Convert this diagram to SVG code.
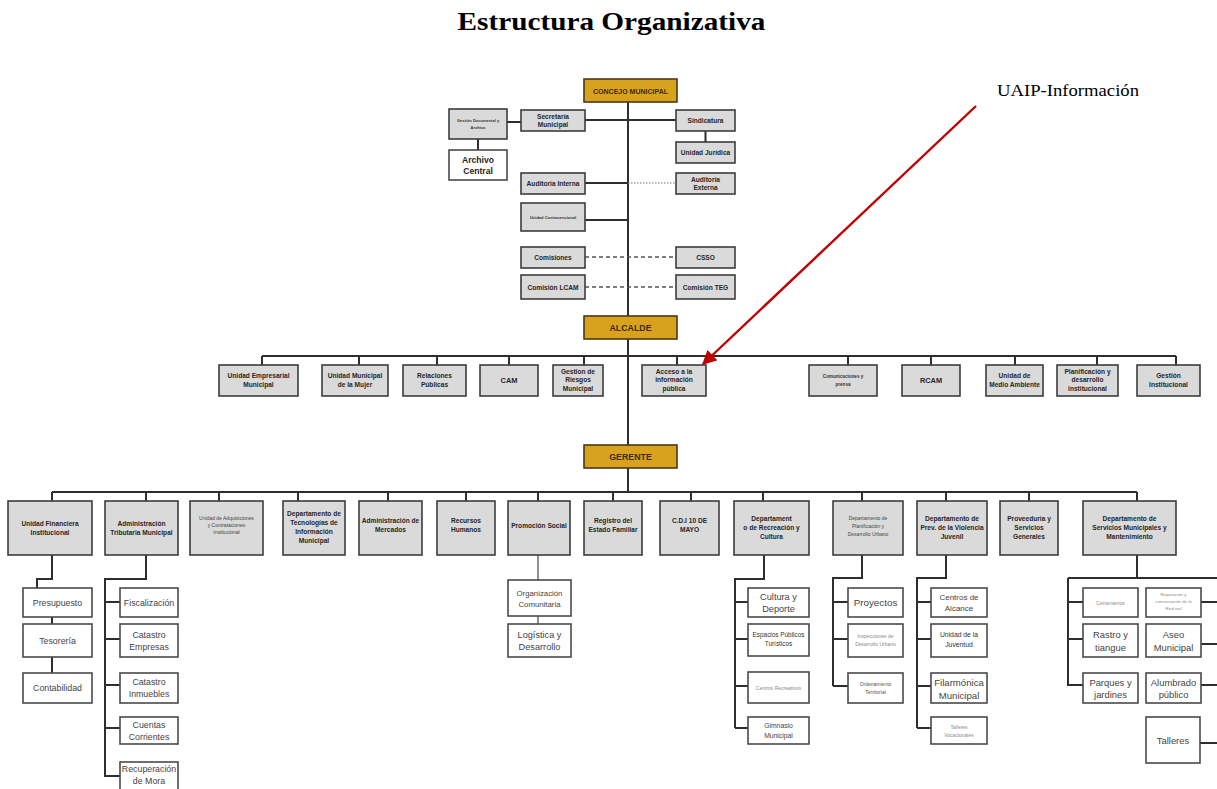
<svg xmlns="http://www.w3.org/2000/svg" width="1217" height="789" viewBox="0 0 1217 789">
<defs>
<style>
.g{fill:#dadada;stroke:#3c3c3c;stroke-width:1.6}
.w{fill:#ffffff;stroke:#4a4a4a;stroke-width:1.6}
.o{fill:#d9a21e;stroke:#4a3a10;stroke-width:1.6}
.ln{stroke:#2e2e2e;stroke-width:2;fill:none}
.dash{stroke:#555;stroke-width:1.3;stroke-dasharray:4 3;fill:none}
.dot{stroke:#777;stroke-width:1;stroke-dasharray:1.5 1.5;fill:none}
text{font-family:"Liberation Sans Narrow","Liberation Sans",Arial,sans-serif;text-anchor:middle}
.tb{font-weight:bold;fill:#262626;font-size:6.6px}
.ts{font-weight:bold;fill:#333;font-size:4.6px}
.to{font-weight:bold;fill:#3a2c05;font-size:8px}
.tr{fill:#444;font-size:8.8px}
.tl{fill:#8a8a8a;font-size:5px}
.title{font-family:"Liberation Serif","Times New Roman",serif;font-weight:bold;font-size:26px;fill:#000}
.lab{font-family:"Liberation Serif","Times New Roman",serif;font-size:17px;fill:#000;text-anchor:start}
</style>
<marker id="ah" viewBox="0 0 10 10" refX="9" refY="5" markerWidth="6" markerHeight="6" orient="auto" markerUnits="strokeWidth">
<path d="M0,0 L10,5 L0,10 z" fill="#c00000"/>
</marker>
</defs>
<rect width="1217" height="789" fill="#ffffff"/>
<text class="title" x="611.5" y="30" textLength="308" lengthAdjust="spacingAndGlyphs">Estructura Organizativa</text>
<text class="lab" x="997" y="96" textLength="142" lengthAdjust="spacingAndGlyphs">UAIP-Información</text>

<g id="connectors">
<path class="ln" d="M628,102 V316 M628,339 V445 M628,468 V492"/>
<path class="ln" d="M507,122 H521 M478,139 V150 M585,120 H676 M705.5,131 V142 M585,183 H628 M585,220 H628"/>
<path class="dot" d="M628,183 H676"/>
<path class="dash" d="M585,257 H676 M585,287 H676"/>
<path class="ln" d="M262,356 H1176 M262,356 V365 M359,356 V365 M437,356 V365 M509,356 V365 M584,356 V365 M677,356 V365 M848,356 V365 M931,356 V365 M1015,356 V365 M1097,356 V365 M1176,356 V365"/>
<path class="ln" d="M52,492 H1137 M52,492 V501 M146,492 V501 M219,492 V501 M298,492 V501 M388,492 V501 M466,492 V501 M538,492 V501 M613,492 V501 M691,492 V501 M763,492 V501 M862,492 V501 M946,492 V501 M1029,492 V501 M1137,492 V501"/>
<path class="ln" d="M52,555 V579 H37 V588 M52,617 V624 M52,657 V673"/>
<path class="ln" d="M146,555 V579 H105 V777 M105,602 H120 M105,639 H120 M105,685 H120 M105,728 H120 M105,776 H120"/>
<path class="ln" d="M538,555 V580 M538,616 V624" style="stroke:#555;stroke-width:1.3"/>
<path class="ln" d="M764,555 V579 H735 V728 M735,602 H748 M735,639 H748 M735,686 H748 M735,728 H748"/>
<path class="ln" d="M862,555 V578 H833 V686 M833,602 H848 M833,639 H848 M833,686 H848"/>
<path class="ln" d="M946,555 V578 H917 V728 M917,602 H931 M917,639 H931 M917,686 H931 M917,728 H931"/>
<path class="ln" d="M1137,555 V578 M1068,578 H1217 M1068,578 V686 M1068,602 H1083 M1068,639 H1083 M1068,685 H1083 M1201,602 H1217 M1201,644 H1217 M1201,685 H1217 M1200,743 H1217"/>
<line x1="976" y1="106" x2="703" y2="364" stroke="#c00000" stroke-width="2.4" marker-end="url(#ah)"/>
</g>

<g id="concejo"><rect class="o" x="584" y="79" width="93" height="23"/><text class="to" x="630.5" y="93.5" style="font-size:7px">CONCEJO MUNICIPAL</text></g>
<g id="gestion-documental"><rect class="g" x="449" y="109" width="58" height="30"/><text class="ts" x="478" y="122" style="font-size:4px">Gestión Documental y</text><text class="ts" x="478" y="129" style="font-size:4px">Archivo</text></g>
<g id="secretaria"><rect class="g" x="521" y="110" width="64" height="21"/><text class="tb" x="553" y="118.5">Secretaría</text><text class="tb" x="553" y="127">Municipal</text></g>
<g id="sindicatura"><rect class="g" x="676" y="110" width="59" height="21"/><text class="tb" x="705.5" y="123">Sindicatura</text></g>
<g id="archivo-central"><rect class="w" x="449" y="150" width="58" height="30"/><text class="tb" x="478" y="162.5" style="font-size:8.6px">Archivo</text><text class="tb" x="478" y="174" style="font-size:8.6px">Central</text></g>
<g id="unidad-juridica"><rect class="g" x="676" y="142" width="59" height="21"/><text class="tb" x="705.5" y="155">Unidad Jurídica</text></g>
<g id="auditoria-interna"><rect class="g" x="521" y="173" width="64" height="21"/><text class="tb" x="553" y="186">Auditoría Interna</text></g>
<g id="auditoria-externa"><rect class="g" x="676" y="173" width="59" height="21"/><text class="tb" x="705.5" y="181.5">Auditoría</text><text class="tb" x="705.5" y="190">Externa</text></g>
<g id="unidad-contravencional"><rect class="g" x="521" y="203" width="64" height="28"/><text class="ts" x="553" y="219" style="font-size:4px">Unidad Contravencional</text></g>
<g id="comisiones"><rect class="g" x="521" y="247" width="64" height="21"/><text class="tb" x="553" y="260">Comisiones</text></g>
<g id="csso"><rect class="g" x="676" y="247" width="59" height="21"/><text class="tb" x="705.5" y="260">CSSO</text></g>
<g id="comision-lcam"><rect class="g" x="521" y="275" width="64" height="24"/><text class="tb" x="553" y="289.5">Comisión LCAM</text></g>
<g id="comision-teg"><rect class="g" x="676" y="275" width="59" height="24"/><text class="tb" x="705.5" y="289.5">Comisión TEG</text></g>

<g id="alcalde"><rect class="o" x="584" y="316" width="93" height="23"/><text class="to" x="630.5" y="330.5" style="font-size:8.8px">ALCALDE</text></g>
<g id="unidad-empresarial"><rect class="g" x="219" y="365" width="79" height="31"/><text class="tb" x="258.5" y="378">Unidad Empresarial</text><text class="tb" x="258.5" y="387">Municipal</text></g>
<g id="unidad-mujer"><rect class="g" x="322" y="365" width="66" height="31"/><text class="tb" x="355" y="378">Unidad Municipal</text><text class="tb" x="355" y="387">de la Mujer</text></g>
<g id="relaciones-publicas"><rect class="g" x="403" y="365" width="63" height="31"/><text class="tb" x="434.5" y="378">Relaciones</text><text class="tb" x="434.5" y="387">Públicas</text></g>
<g id="cam"><rect class="g" x="480" y="365" width="58" height="31"/><text class="tb" x="509" y="383" style="font-size:7.4px">CAM</text></g>
<g id="gestion-riesgos"><rect class="g" x="553" y="365" width="50" height="31"/><text class="tb" x="578" y="373.5">Gestion de</text><text class="tb" x="578" y="382">Riesgos</text><text class="tb" x="578" y="390.5">Municipal</text></g>
<g id="acceso-informacion"><rect class="g" x="642" y="365" width="64" height="31"/><text class="tb" x="674" y="373.5">Acceso a la</text><text class="tb" x="674" y="382">información</text><text class="tb" x="674" y="390.5">pública</text></g>
<g id="comunicaciones"><rect class="g" x="809" y="365" width="68" height="31"/><text class="ts" x="843" y="378">Comunicaciones y</text><text class="ts" x="843" y="386">prensa</text></g>
<g id="rcam"><rect class="g" x="902" y="365" width="58" height="31"/><text class="tb" x="931" y="383" style="font-size:7.4px">RCAM</text></g>
<g id="medio-ambiente"><rect class="g" x="986" y="365" width="57" height="31"/><text class="tb" x="1014.5" y="378">Unidad de</text><text class="tb" x="1014.5" y="387">Medio Ambiente</text></g>
<g id="planificacion-institucional"><rect class="g" x="1057" y="365" width="61" height="31"/><text class="tb" x="1087.5" y="373.5">Planificación y</text><text class="tb" x="1087.5" y="382">desarrollo</text><text class="tb" x="1087.5" y="390.5">institucional</text></g>
<g id="gestion-institucional"><rect class="g" x="1137" y="365" width="63" height="31"/><text class="tb" x="1168.5" y="378">Gestión</text><text class="tb" x="1168.5" y="387">Institucional</text></g>

<g id="gerente"><rect class="o" x="584" y="445" width="93" height="23"/><text class="to" x="630.5" y="459.5" style="font-size:8.8px">GERENTE</text></g>
<g id="unidad-financiera"><rect class="g" x="8" y="501" width="84" height="54"/><text class="tb" x="50" y="526">Unidad Financiera</text><text class="tb" x="50" y="535">Institucional</text></g>
<g id="administracion-tributaria"><rect class="g" x="105" y="501" width="73" height="54"/><text class="tb" x="141.5" y="526">Administración</text><text class="tb" x="141.5" y="535">Tributaria Municipal</text></g>
<g id="adquisiciones"><rect class="g" x="190" y="501" width="73" height="54"/><text class="tl" x="226.5" y="520" style="fill:#444">Unidad de  Adquisiciones</text><text class="tl" x="226.5" y="527" style="fill:#444">y Contrataciones</text><text class="tl" x="226.5" y="534" style="fill:#444">Institucional</text></g>
<g id="tecnologias"><rect class="g" x="283" y="501" width="62" height="54"/><text class="tb" x="314" y="516">Departamento de</text><text class="tb" x="314" y="525">Tecnologías de</text><text class="tb" x="314" y="534">Información</text><text class="tb" x="314" y="543">Municipal</text></g>
<g id="mercados"><rect class="g" x="359" y="501" width="63" height="54"/><text class="tb" x="390.5" y="523">Administración de</text><text class="tb" x="390.5" y="532">Mercados</text></g>
<g id="recursos-humanos"><rect class="g" x="437" y="501" width="58" height="54"/><text class="tb" x="466" y="523">Recursos</text><text class="tb" x="466" y="532">Humanos</text></g>
<g id="promocion-social"><rect class="g" x="508" y="501" width="62" height="54"/><text class="tb" x="539" y="527.5">Promoción Social</text></g>
<g id="registro-familiar"><rect class="g" x="584" y="501" width="58" height="54"/><text class="tb" x="613" y="523">Registro del</text><text class="tb" x="613" y="532">Estado Familiar</text></g>
<g id="cdi"><rect class="g" x="660" y="501" width="59" height="54"/><text class="tb" x="689.5" y="523">C.D.I 10 DE</text><text class="tb" x="689.5" y="532">MAYO</text></g>
<g id="recreacion-cultura"><rect class="g" x="734" y="501" width="75" height="54"/><text class="tb" x="771.5" y="521">Departament</text><text class="tb" x="771.5" y="530">o de Recreación y</text><text class="tb" x="771.5" y="539">Cultura</text></g>
<g id="planificacion-urbano"><rect class="g" x="833" y="501" width="70" height="54"/><text class="tl" x="868" y="520" style="fill:#444">Departamento de</text><text class="tl" x="868" y="528" style="fill:#444">Planificación y</text><text class="tl" x="868" y="536" style="fill:#444">Desarrollo Urbano</text></g>
<g id="violencia-juvenil"><rect class="g" x="917" y="501" width="70" height="54"/><text class="tb" x="952" y="521">Departamento de</text><text class="tb" x="952" y="530">Prev. de la Violencia</text><text class="tb" x="952" y="539">Juvenil</text></g>
<g id="proveeduria"><rect class="g" x="1000" y="501" width="58" height="54"/><text class="tb" x="1029" y="521">Proveeduría y</text><text class="tb" x="1029" y="530">Servicios</text><text class="tb" x="1029" y="539">Generales</text></g>
<g id="servicios-municipales"><rect class="g" x="1083" y="501" width="93" height="54"/><text class="tb" x="1129.5" y="521">Departamento de</text><text class="tb" x="1129.5" y="530">Servicios Municipales y</text><text class="tb" x="1129.5" y="539">Mantenimiento</text></g>

<g id="presupuesto"><rect class="w" x="23" y="588" width="69" height="29"/><text class="tr" x="57.5" y="605.5">Presupuesto</text></g>
<g id="tesoreria"><rect class="w" x="23" y="624" width="69" height="33"/><text class="tr" x="57.5" y="643.5">Tesorería</text></g>
<g id="contabilidad"><rect class="w" x="23" y="673" width="69" height="30"/><text class="tr" x="57.5" y="691">Contabilidad</text></g>
<g id="fiscalizacion"><rect class="w" x="120" y="588" width="58" height="29"/><text class="tr" x="149" y="605.5">Fiscalización</text></g>
<g id="catastro-empresas"><rect class="w" x="120" y="624" width="58" height="33"/><text class="tr" x="149" y="637.5">Catastro</text><text class="tr" x="149" y="649.5">Empresas</text></g>
<g id="catastro-inmuebles"><rect class="w" x="120" y="673" width="58" height="30"/><text class="tr" x="149" y="685">Catastro</text><text class="tr" x="149" y="697">Inmuebles</text></g>
<g id="cuentas-corrientes"><rect class="w" x="120" y="717" width="58" height="27"/><text class="tr" x="149" y="727.5">Cuentas</text><text class="tr" x="149" y="739.5">Corrientes</text></g>
<g id="recuperacion-mora"><rect class="w" x="120" y="762" width="58" height="29"/><text class="tr" x="149" y="772">Recuperación</text><text class="tr" x="149" y="784">de Mora</text></g>
<g id="organizacion-comunitaria"><rect class="w" x="508" y="580" width="63" height="36"/><text class="tr" x="539.5" y="596" style="font-size:7.8px">Organización</text><text class="tr" x="539.5" y="607" style="font-size:7.8px">Comunitaria</text></g>
<g id="logistica"><rect class="w" x="508" y="624" width="63" height="33"/><text class="tr" x="539.5" y="637.5" style="font-size:9.2px">Logística y</text><text class="tr" x="539.5" y="650" style="font-size:9.2px">Desarrollo</text></g>
<g id="cultura-deporte"><rect class="w" x="748" y="588" width="61" height="29"/><text class="tr" x="778.5" y="599.5" style="font-size:9.2px">Cultura y</text><text class="tr" x="778.5" y="611.5" style="font-size:9.2px">Deporte</text></g>
<g id="espacios-publicos"><rect class="w" x="748" y="624" width="61" height="32"/><text class="tb" x="778.5" y="637" style="fill:#333;font-weight:normal;font-size:6.4px">Espacios Públicos</text><text class="tb" x="778.5" y="646" style="fill:#333;font-weight:normal;font-size:6.4px">Turísticos</text></g>
<g id="centros-recreativos"><rect class="w" x="748" y="672" width="61" height="31"/><text class="tl" x="778.5" y="689.5">Centros Recreativos</text></g>
<g id="gimnasio"><rect class="w" x="748" y="717" width="61" height="27"/><text class="tr" x="778.5" y="728" style="font-size:6.8px">Gimnasio</text><text class="tr" x="778.5" y="738" style="font-size:6.8px">Municipal</text></g>
<g id="proyectos"><rect class="w" x="848" y="588" width="55" height="29"/><text class="tr" x="875.5" y="606" style="font-size:9.8px">Proyectos</text></g>
<g id="inspecciones"><rect class="w" x="848" y="624" width="55" height="33"/><text class="tl" x="875.5" y="638">Inspecciones de</text><text class="tl" x="875.5" y="646">Desarrollo Urbano</text></g>
<g id="ordenamiento"><rect class="w" x="848" y="673" width="55" height="30"/><text class="tl" x="875.5" y="686" style="fill:#555">Ordenamiento</text><text class="tl" x="875.5" y="694" style="fill:#555">Territorial</text></g>
<g id="centros-alcance"><rect class="w" x="931" y="588" width="56" height="29"/><text class="tr" x="959" y="599.5" style="font-size:8px">Centros de</text><text class="tr" x="959" y="610.5" style="font-size:8px">Alcance</text></g>
<g id="unidad-juventud"><rect class="w" x="931" y="624" width="56" height="33"/><text class="tb" x="959" y="637" style="font-weight:normal;fill:#333;font-size:6.8px">Unidad de la</text><text class="tb" x="959" y="647" style="font-weight:normal;fill:#333;font-size:6.8px">Juventud</text></g>
<g id="filarmonica"><rect class="w" x="931" y="673" width="56" height="30"/><text class="tr" x="959" y="685.5" style="font-size:9.6px">Filarmónica</text><text class="tr" x="959" y="698.5" style="font-size:9.6px">Municipal</text></g>
<g id="talleres-vocacionales"><rect class="w" x="931" y="717" width="56" height="27"/><text class="tl" x="959" y="728.5">Talleres</text><text class="tl" x="959" y="736.5">Vocacionales</text></g>
<g id="cementerios"><rect class="w" x="1083" y="588" width="55" height="29"/><text class="tl" x="1110.5" y="604.5">Cementerios</text></g>
<g id="red-vial"><rect class="w" x="1146" y="588" width="55" height="29"/><text class="tl" x="1173.5" y="596" style="font-size:4.4px">Reparación y</text><text class="tl" x="1173.5" y="603" style="font-size:4.4px">conservación de la</text><text class="tl" x="1173.5" y="610" style="font-size:4.4px">Red vial</text></g>
<g id="rastro"><rect class="w" x="1083" y="624" width="55" height="33"/><text class="tr" x="1110.5" y="637.5" style="font-size:9.4px">Rastro y</text><text class="tr" x="1110.5" y="650.5" style="font-size:9.4px">tiangue</text></g>
<g id="aseo"><rect class="w" x="1146" y="624" width="55" height="33"/><text class="tr" x="1173.5" y="637.5" style="font-size:9.4px">Aseo</text><text class="tr" x="1173.5" y="650.5" style="font-size:9.4px">Municipal</text></g>
<g id="parques"><rect class="w" x="1083" y="673" width="55" height="30"/><text class="tr" x="1110.5" y="685.5" style="font-size:9.4px">Parques y</text><text class="tr" x="1110.5" y="698" style="font-size:9.4px">jardines</text></g>
<g id="alumbrado"><rect class="w" x="1146" y="673" width="55" height="30"/><text class="tr" x="1173.5" y="685.5" style="font-size:9.4px">Alumbrado</text><text class="tr" x="1173.5" y="698" style="font-size:9.4px">público</text></g>
<g id="talleres"><rect class="w" x="1146" y="717" width="54" height="46"/><text class="tr" x="1173" y="743.5" style="font-size:9.4px">Talleres</text></g>
</svg>
